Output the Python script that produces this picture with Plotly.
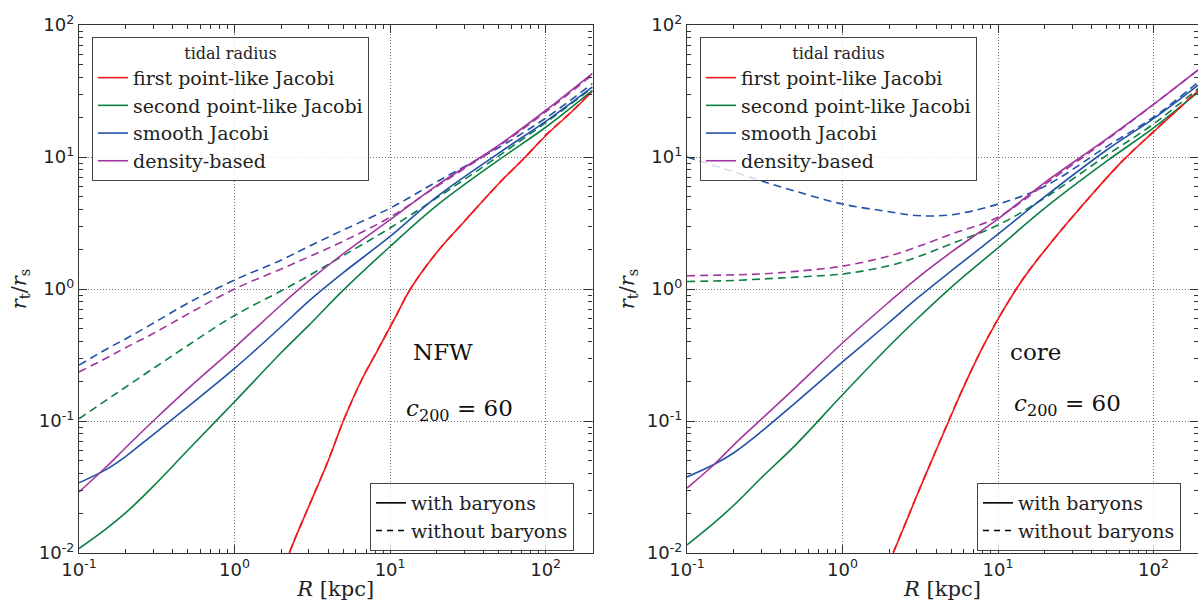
import plotly.graph_objects as go
import numpy as np

# ---------------- data ----------------
R = [0.1, 0.15, 0.2, 0.3, 0.5, 1, 2, 3, 5, 10, 20, 50, 100, 200]

# NFW panel (left)
nfw_density_with = [0.029, 0.045, 0.063, 0.1, 0.175, 0.36, 0.76, 1.15, 1.85, 3.35, 6.1, 12.3, 22.5, 43]
nfw_smooth_with = [0.034, 0.043, 0.054, 0.079, 0.128, 0.25, 0.52, 0.81, 1.33, 2.5, 5.0, 10.7, 18.6, 34]
nfw_second_with = [0.0108, 0.0153, 0.0202, 0.032, 0.06, 0.14, 0.33, 0.53, 0.98, 2.1, 4.3, 9.5, 16.8, 32]
nfw_smooth_without = [0.265, 0.35, 0.42, 0.55, 0.78, 1.17, 1.66, 2.1, 2.8, 4.1, 6.5, 11.8, 19.7, 36]
nfw_density_without = [0.235, 0.3, 0.36, 0.46, 0.645, 1.0, 1.42, 1.75, 2.3, 3.5, 6.0, 12.1, 22.0, 42]
nfw_second_without = [0.104, 0.144, 0.181, 0.25, 0.373, 0.63, 0.97, 1.26, 1.79, 2.9, 4.9, 10.2, 18.2, 33.5]

R_red_nfw = [2.25, 2.5, 3, 4, 5, 6.5, 8, 10.8, 13.5, 20, 30, 50, 74, 100, 150, 200]
nfw_first_with = [0.01, 0.0136, 0.0225, 0.05, 0.1, 0.2, 0.316, 0.61, 1.0, 1.9, 3.25, 6.3, 10, 14.5, 22.5, 31.5]
nfw_first_without = [0.0101, 0.0137, 0.0226, 0.0502, 0.1, 0.2, 0.318, 0.61, 1.0, 1.9, 3.25, 6.3, 10, 14.6, 22.6, 31.8]

# core panel (right)
core_density_with = [0.031, 0.047, 0.066, 0.103, 0.18, 0.39, 0.8, 1.2, 1.9, 3.4, 6.4, 13.7, 25, 47]
core_smooth_with = [0.0377, 0.047, 0.0575, 0.083, 0.138, 0.28, 0.56, 0.845, 1.37, 2.6, 5.0, 11.3, 19.5, 36]
core_second_with = [0.0115, 0.017, 0.023, 0.037, 0.066, 0.158, 0.37, 0.59, 1.03, 2.05, 4.1, 9.3, 16.6, 32]
core_smooth_without = [10.0, 8.6, 7.7, 6.6, 5.5, 4.4, 3.85, 3.6, 3.65, 4.4, 6.0, 12.0, 20.0, 38]
core_density_without = [1.26, 1.27, 1.28, 1.3, 1.36, 1.49, 1.78, 2.08, 2.6, 3.5, 6.2, 13.5, 25, 47]
core_second_without = [1.14, 1.15, 1.16, 1.19, 1.23, 1.3, 1.5, 1.74, 2.2, 3.05, 4.9, 10.3, 17.8, 34]

R_red_core = [2.12, 2.5, 3, 4, 4.79, 6, 8.24, 11.1, 15, 21.6, 30, 39, 63, 100, 150, 200]
core_first_with = [0.01, 0.016, 0.027, 0.06, 0.098, 0.18, 0.39, 0.73, 1.26, 2.2, 3.5, 5.0, 9.3, 15.5, 24, 33]
core_first_without = [0.0101, 0.0161, 0.0272, 0.0603, 0.099, 0.181, 0.392, 0.73, 1.27, 2.2, 3.5, 5.0, 9.3, 15.6, 24.2, 33.3]

series_names = ["first point-like Jacobi", "second point-like Jacobi", "smooth Jacobi", "density-based"]
colors = ["#f01a1e", "#0a8043", "#2152a8", "#a0379f"]

x_ticks = [0.1, 1, 10, 100]
x_ticktext = ["10<sup>-1</sup>", "10<sup>0</sup>", "10<sup>1</sup>", "10<sup>2</sup>"]
y_ticks = [0.01, 0.1, 1, 10, 100]
y_ticktext = ["10<sup>-2</sup>", "10<sup>-1</sup>", "10<sup>0</sup>", "10<sup>1</sup>", "10<sup>2</sup>"]
minor_x = [m * 10.0 ** e for e in (-1, 0, 1, 2) for m in range(2, 10)]
minor_y = [m * 10.0 ** e for e in (-2, -1, 0, 1) for m in range(2, 10)]

SERIF = "DejaVu Serif"
DASH = "8px,5px"
LW = 1.6

fig = go.Figure()

panels = [
    dict(xa="x", ya="y", leg="legend", leg_b="legend2",
         first=(R_red_nfw, nfw_first_with, nfw_first_without),
         others=[(nfw_second_with, nfw_second_without),
                 (nfw_smooth_with, nfw_smooth_without),
                 (nfw_density_with, nfw_density_without)]),
    dict(xa="x2", ya="y2", leg="legend3", leg_b="legend4",
         first=(R_red_core, core_first_with, core_first_without),
         others=[(core_second_with, core_second_without),
                 (core_smooth_with, core_smooth_without),
                 (core_density_with, core_density_without)]),
]

for p in panels:
    for i, (w, wo) in enumerate(p["others"]):
        fig.add_trace(go.Scatter(x=R, y=wo, mode="lines", xaxis=p["xa"], yaxis=p["ya"],
                                 line=dict(color=colors[i + 1], width=LW, dash=DASH, shape="spline"),
                                 showlegend=False, hoverinfo="skip"))
    rx, rw, rwo = p["first"]
    fig.add_trace(go.Scatter(x=rx, y=rw, mode="lines", xaxis=p["xa"], yaxis=p["ya"],
                             name=series_names[0], legend=p["leg"],
                             line=dict(color=colors[0], width=LW, shape="spline")))
    for i, (w, wo) in enumerate(p["others"]):
        fig.add_trace(go.Scatter(x=R, y=w, mode="lines", xaxis=p["xa"], yaxis=p["ya"],
                                 name=series_names[i + 1], legend=p["leg"],
                                 line=dict(color=colors[i + 1], width=LW, shape="spline")))
    fig.add_trace(go.Scatter(x=rx, y=rwo, mode="lines", xaxis=p["xa"], yaxis=p["ya"],
                             showlegend=False, hoverinfo="skip",
                             line=dict(color=colors[0], width=LW, dash=DASH, shape="spline")))
    fig.add_trace(go.Scatter(x=[None], y=[None], mode="lines", xaxis=p["xa"], yaxis=p["ya"],
                             name="with baryons", legend=p["leg_b"],
                             line=dict(color="black", width=LW)))
    fig.add_trace(go.Scatter(x=[None], y=[None], mode="lines", xaxis=p["xa"], yaxis=p["ya"],
                             name="without baryons", legend=p["leg_b"],
                             line=dict(color="black", width=LW, dash="6px,5px")))

ydom = [1 - 553 / 605, 1 - 25 / 605]
common_axis = dict(type="log", showline=True, linecolor="#333", linewidth=1.3, mirror="allticks",
                   ticks="inside", ticklen=8, tickwidth=1, tickcolor="#333",
                   showgrid=True, gridcolor="#777", griddash="1px,2px", gridwidth=1,
                   zeroline=False, automargin=False,
                   tickfont=dict(family="DejaVu Sans", size=18, color="#222"))

def xaxis(domain, rng, anchor):
    d = dict(common_axis)
    d.update(domain=domain, range=rng, anchor=anchor, tickmode="array", tickvals=x_ticks,
             ticktext=x_ticktext,
             minor=dict(tickmode="array", tickvals=minor_x, ticks="inside", ticklen=4,
                        tickcolor="#333", showgrid=False),
             title=dict(text="<i>R</i> [kpc]", font=dict(family=SERIF, size=21, color="#222"),
                        standoff=2))
    return d

def yaxis(anchor):
    d = dict(common_axis)
    d.update(domain=ydom, range=[-2, 2], anchor=anchor, tickmode="array", tickvals=y_ticks,
             ticktext=y_ticktext,
             minor=dict(tickmode="array", tickvals=minor_y, ticks="inside", ticklen=4,
                        tickcolor="#333", showgrid=False),
             title=dict(text="<i>r</i><sub>t</sub>/<i>r</i><sub>s</sub>",
                        font=dict(family=SERIF, size=21, color="#222"), standoff=6))
    return d

legend_common = dict(bgcolor="rgba(255,255,255,0.8)", bordercolor="#444", borderwidth=1,
                     font=dict(family=SERIF, size=19, color="#222"), itemwidth=30,
                     xanchor="left", yanchor="top", tracegroupgap=0)

def tidal_legend(x):
    d = dict(legend_common)
    d.update(x=x, y=1 - 37 / 605,
             title=dict(text="tidal radius", side="top center",
                        font=dict(family=SERIF, size=16, color="#222")))
    return d

def baryon_legend(x):
    d = dict(legend_common)
    d.update(x=x, y=1 - 483 / 605)
    return d

ann_font = dict(family=SERIF, size=23, color="#111")
annotations = [
    dict(text="NFW", x=443 / 1198, y=1 - 352 / 605),
    dict(text="<i>c</i><sub>200</sub> = 60", x=459 / 1198, y=1 - 410 / 605),
    dict(text="core", x=1035 / 1198, y=1 - 352 / 605),
    dict(text="<i>c</i><sub>200</sub> = 60", x=1067 / 1198, y=1 - 405 / 605),
]
for a in annotations:
    a.update(xref="paper", yref="paper", showarrow=False, font=ann_font,
             xanchor="center", yanchor="middle")

fig.update_layout(
    width=1198, height=605,
    margin=dict(l=0, r=0, t=0, b=0),
    paper_bgcolor="white", plot_bgcolor="white",
    xaxis=xaxis([79 / 1198, 592.5 / 1198], [-1, np.log10(200)], "y"),
    yaxis=yaxis("x"),
    xaxis2=xaxis([687 / 1198, 1.0], [-1, -1 + 511 / 155.5], "y2"),
    yaxis2=yaxis("x2"),
    legend=tidal_legend(92 / 1198),
    legend2=baryon_legend(370 / 1198),
    legend3=tidal_legend(700 / 1198),
    legend4=baryon_legend(977 / 1198),
    annotations=annotations,
)

fig.write_html("out.html")
